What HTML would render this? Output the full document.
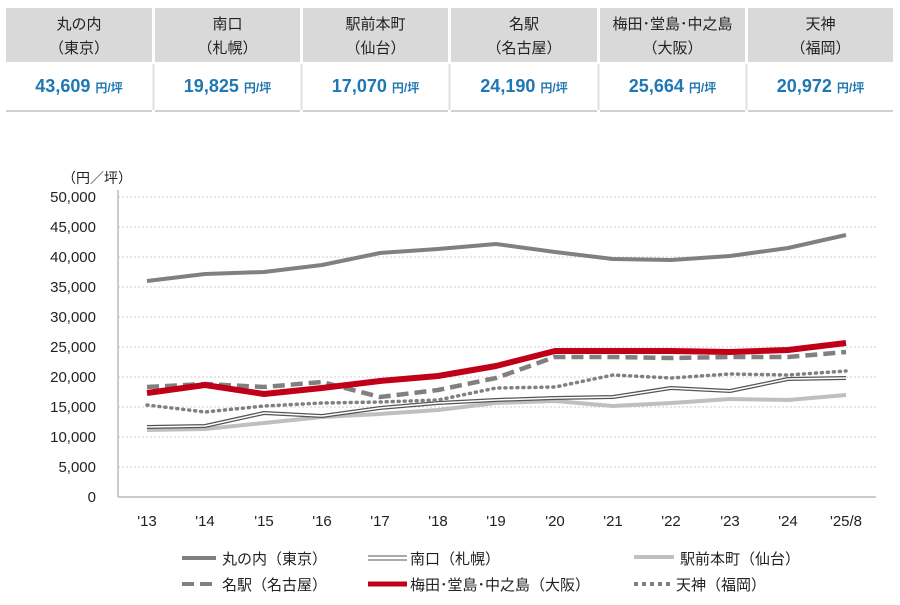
<!DOCTYPE html><html><head><meta charset="utf-8"><style>
body{margin:0;width:900px;height:605px;background:#fff;font-family:"Liberation Sans","Noto Sans CJK JP",sans-serif;overflow:hidden}
.c{position:absolute;text-align:center}
.h{background:#d9d9d9;font-size:15px;line-height:24px;color:#222;padding-top:5px;box-sizing:border-box}
.v{background:#fff;border-bottom:2px solid #d0d0d0;color:#1f77b4;font-weight:bold;font-size:18px;line-height:44px}
.v span{font-size:12px}
</style></head><body>
<div class="c h" style="left:6px;top:8px;width:146px;height:54px">丸の内<br>（東京）</div>
<div class="c h" style="left:155px;top:8px;width:145px;height:54px">南口<br>（札幌）</div>
<div class="c h" style="left:303px;top:8px;width:145px;height:54px">駅前本町<br>（仙台）</div>
<div class="c h" style="left:451px;top:8px;width:146px;height:54px">名駅<br>（名古屋）</div>
<div class="c h" style="left:600px;top:8px;width:145px;height:54px">梅田･堂島･中之島<br>（大阪）</div>
<div class="c h" style="left:748px;top:8px;width:145px;height:54px">天神<br>（福岡）</div>
<div class="c v" style="left:6px;top:64px;width:146px;height:46px">43,609 <span>円/坪</span></div>
<div class="c v" style="left:155px;top:64px;width:145px;height:46px">19,825 <span>円/坪</span></div>
<div class="c v" style="left:303px;top:64px;width:145px;height:46px">17,070 <span>円/坪</span></div>
<div class="c v" style="left:451px;top:64px;width:146px;height:46px">24,190 <span>円/坪</span></div>
<div class="c v" style="left:600px;top:64px;width:145px;height:46px">25,664 <span>円/坪</span></div>
<div class="c v" style="left:748px;top:64px;width:145px;height:46px">20,972 <span>円/坪</span></div>
<svg width="900" height="605" style="position:absolute;left:0;top:0" font-family="Liberation Sans,Noto Sans CJK JP,sans-serif">
<g stroke="#e0e0e0" stroke-width="2"><line x1="153.5" y1="64" x2="153.5" y2="110"/><line x1="301.5" y1="64" x2="301.5" y2="110"/><line x1="449.5" y1="64" x2="449.5" y2="110"/><line x1="598.5" y1="64" x2="598.5" y2="110"/><line x1="746.5" y1="64" x2="746.5" y2="110"/></g>
<text x="62" y="183" font-size="14" fill="#222">（円／坪）</text>
<g stroke="#ccc" stroke-dasharray="2,2" stroke-width="1">
<line x1="118" x2="876" y1="197" y2="197"/><line x1="118" x2="876" y1="227" y2="227"/><line x1="118" x2="876" y1="257" y2="257"/><line x1="118" x2="876" y1="287" y2="287"/><line x1="118" x2="876" y1="317" y2="317"/><line x1="118" x2="876" y1="347" y2="347"/><line x1="118" x2="876" y1="377" y2="377"/><line x1="118" x2="876" y1="407" y2="407"/><line x1="118" x2="876" y1="437" y2="437"/><line x1="118" x2="876" y1="467" y2="467"/></g>
<line x1="118" y1="190" x2="118" y2="497" stroke="#bbb" stroke-width="1.5"/>
<line x1="118" y1="497" x2="876" y2="497" stroke="#bbb" stroke-width="1.5"/>
<g font-size="15" fill="#222" text-anchor="end">
<text x="96" y="202">50,000</text><text x="96" y="232">45,000</text><text x="96" y="262">40,000</text><text x="96" y="292">35,000</text><text x="96" y="322">30,000</text><text x="96" y="352">25,000</text><text x="96" y="382">20,000</text><text x="96" y="412">15,000</text><text x="96" y="442">10,000</text><text x="96" y="472">5,000</text><text x="96" y="502">0</text></g>
<g font-size="15" fill="#222" text-anchor="middle">
<text x="147" y="526">'13</text><text x="205" y="526">'14</text><text x="264" y="526">'15</text><text x="322" y="526">'16</text><text x="380" y="526">'17</text><text x="438" y="526">'18</text><text x="496" y="526">'19</text><text x="555" y="526">'20</text><text x="613" y="526">'21</text><text x="671" y="526">'22</text><text x="730" y="526">'23</text><text x="788" y="526">'24</text><text x="846" y="526">'25/8</text></g>
<g fill="none" stroke-linejoin="round">
<polyline stroke="#bfbfbf" stroke-width="4" points="147,430 205,429 264,423 322,417 380,414 438,410 496,403 555,401 613,406 671,403 730,399 788,400 846,395"/>
<polyline stroke="#555" stroke-width="4" points="147,427 205,426 264,413 322,416 380,408 438,403 496,400 555,398 613,397 671,388 730,391 788,379 846,378"/>
<polyline stroke="#fff" stroke-width="1.5" points="147,427 205,426 264,413 322,416 380,408 438,403 496,400 555,398 613,397 671,388 730,391 788,379 846,378"/>
<polyline stroke="#808080" stroke-width="3.5" stroke-dasharray="1,5" stroke-linecap="round" points="147,405 205,412 264,406 322,403 380,402 438,400 496,388 555,387 613,375 671,378 730,374 788,375 846,371"/>
<polyline stroke="#808080" stroke-width="4.5" stroke-dasharray="12,6" points="147,387 205,384 264,387 322,382 380,397 438,390 496,378 555,357 613,357 671,358 730,357 788,357 846,352"/>
<polyline stroke="#c00018" stroke-width="6" points="147,393 205,385 264,394 322,388 380,381 438,376 496,366 555,351 613,351 671,351 730,352 788,350 846,343"/>
<polyline stroke="#808080" stroke-width="4" points="147,281 205,274 264,272 322,265 380,253 438,249 496,244 555,252 613,259 671,260 730,256 788,248 846,235"/>
</g>
<g font-size="15" fill="#222">
<line x1="182" y1="558" x2="216" y2="558" stroke="#808080" stroke-width="4"/><text x="222" y="564">丸の内（東京）</text>
<line x1="368" y1="556" x2="407" y2="556" stroke="#555"/><line x1="368" y1="560" x2="407" y2="560" stroke="#555"/><text x="410" y="564">南口（札幌）</text>
<line x1="634" y1="557" x2="674" y2="557" stroke="#bfbfbf" stroke-width="4"/><text x="680" y="564">駅前本町（仙台）</text>
<line x1="182" y1="584" x2="216" y2="584" stroke="#808080" stroke-width="4" stroke-dasharray="12,6"/><text x="222" y="590">名駅（名古屋）</text>
<line x1="368" y1="584" x2="407" y2="584" stroke="#c00018" stroke-width="5"/><text x="410" y="590">梅田･堂島･中之島（大阪）</text>
<line x1="634" y1="584" x2="674" y2="584" stroke="#808080" stroke-width="4" stroke-dasharray="4,4"/><text x="676" y="590">天神（福岡）</text>
</g></svg></body></html>
